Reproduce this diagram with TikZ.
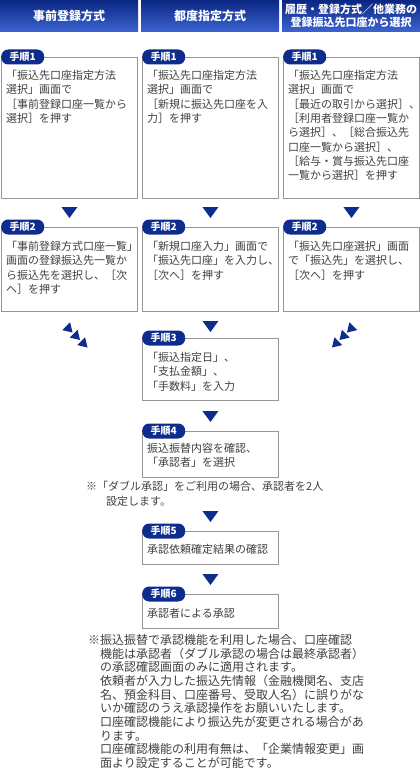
\documentclass[tikz,border=0pt]{standalone}
\usepackage{fontspec}
\setmainfont{Noto Sans CJK JP}
\usetikzlibrary{positioning, calc}
\definecolor{headnavy}{RGB}{10, 38, 130}
\definecolor{headblue}{RGB}{60, 100, 210}
\definecolor{tagnavy}{RGB}{14, 44, 140}
\definecolor{framegray}{RGB}{150, 150, 150}
\definecolor{inkgray}{RGB}{64, 64, 64}

\begin{document}
\begin{tikzpicture}[x=1pt, y=-1pt,
  colhead/.style={top color=headnavy, bottom color=headblue, text=white,
    font=\fontsize{12}{13}\selectfont\bfseries, minimum width=138pt,
    minimum height=32pt, inner sep=0pt, align=center},
  stepbox/.style={draw=framegray, line width=0.9pt, minimum width=136pt,
    inner sep=0pt, anchor=north west},
  steptag/.style={fill=tagnavy, text=white, font=\fontsize{10}{10}\selectfont\bfseries,
    rounded corners=7pt, minimum width=43pt, minimum height=15pt, inner sep=0pt, anchor=west},
  boxtext/.style={text=inkgray, font=\fontsize{11}{14.3}\selectfont, align=left,
    anchor=north west, inner sep=0pt},
  notetext/.style={text=inkgray, align=left, anchor=north west, inner sep=0pt},
  downmark/.pic={\fill[tagnavy] (-8,-5) -- (8,-5) -- (0,6) -- cycle;},
  rightmark/.pic={\fill[tagnavy] (3.5,3.5) -- (1.1,-6.7) -- (-6.7,1.1) -- cycle;},
  leftmark/.pic={\fill[tagnavy] (-3.5,3.5) -- (-1.1,-6.7) -- (6.7,1.1) -- cycle;}
]
  \useasboundingbox (0,0) rectangle (420,776);
  \fill[white] (0,0) rectangle (420,776);

  % 見出し
  \node[colhead] (h1) at (69,16) {事前登録方式};
  \node[colhead] (h2) at (210,16) {都度指定方式};
  \node[colhead, font=\fontsize{11}{13}\selectfont\bfseries] (h3) at (351,16)
    {履歴・登録方式／他業務の\\登録振込先口座から選択};

  % 手順1
  \node[stepbox, minimum height=141pt] (s1a) at (1,57) {};
  \node[stepbox, minimum height=141pt] (s1b) at (142,57) {};
  \node[stepbox, minimum height=141pt] (s1c) at (283,57) {};
  \node[boxtext] (t1a) at ([xshift=5pt, yshift=-13pt]s1a.north west)
    {「振込先口座指定方法\\選択」画面で\\［事前登録口座一覧から\\選択］を押す};
  \node[boxtext] (t1b) at ([xshift=5pt, yshift=-13pt]s1b.north west)
    {「振込先口座指定方法\\選択」画面で\\［新規に振込先口座を入\\力］を押す};
  \node[boxtext] (t1c) at ([xshift=5pt, yshift=-13pt]s1c.north west)
    {「振込先口座指定方法\\選択」画面で\\［最近の取引から選択］、\\［利用者登録口座一覧か\\ら選択］、［総合振込先\\口座一覧から選択］、\\［給与・賞与振込先口座\\一覧から選択］を押す};

  % 手順2
  \node[stepbox, minimum height=84pt] (s2a) at (1,227) {};
  \node[stepbox, minimum height=84pt] (s2b) at (142,227) {};
  \node[stepbox, minimum height=84pt] (s2c) at (283,227) {};
  \node[boxtext] (t2a) at ([xshift=5pt, yshift=-14pt]s2a.north west)
    {「事前登録方式口座一覧」\\画面の登録振込先一覧か\\ら振込先を選択し、［次\\へ］を押す};
  \node[boxtext] (t2b) at ([xshift=5pt, yshift=-14pt]s2b.north west)
    {「新規口座入力」画面で\\「振込先口座」を入力し、\\［次へ］を押す};
  \node[boxtext] (t2c) at ([xshift=5pt, yshift=-14pt]s2c.north west)
    {「振込先口座選択」画面\\で「振込先」を選択し、\\［次へ］を押す};

  \foreach \c in {a,b,c} {
    \node[steptag] (tag1\c) at (s1\c.north west) {手順1};
    \node[steptag] (tag2\c) at (s2\c.north west) {手順2};
    \pic at ([yshift=15pt]s2\c.north) {downmark};
  }

  % 手順3〜6
  \node[stepbox, minimum height=62pt] (s3) at (142,338) {};
  \node[stepbox, minimum height=46pt] (s4) at (142,431) {};
  \node[stepbox, minimum height=33pt] (s5) at (142,531) {};
  \node[stepbox, minimum height=34pt] (s6) at (142,594) {};
  \node[boxtext] (t3) at ([xshift=5pt, yshift=-14pt]s3.north west)
    {「振込指定日」、\\「支払金額」、\\「手数料」を入力};
  \node[boxtext] (t4) at ([xshift=5pt, yshift=-12pt]s4.north west)
    {振込振替内容を確認、\\「承認者」を選択};
  \node[boxtext] (t5) at ([xshift=5pt, yshift=-13pt]s5.north west) {承認依頼確定結果の確認};
  \node[boxtext] (t6) at ([xshift=5pt, yshift=-14pt]s6.north west) {承認者による承認};
  \foreach \n in {3,4,5,6}
    \node[steptag] (tag\n) at (s\n.north west) {手順\n};

  \pic at ([yshift=12pt]s3.north) {downmark};
  \pic at ([yshift=15pt]s4.north) {downmark};
  \pic at ([yshift=15pt]s5.north) {downmark};
  \pic at ([yshift=15pt]s6.north) {downmark};

  % 斜めの矢印
  \foreach \x/\y in {69/329, 76.5/336.5, 84/344}
    \pic at (\x,\y) {rightmark};
  \foreach \x/\y in {350.5/329, 343/336.5, 335.5/344}
    \pic at (\x,\y) {leftmark};

  % 注記
  \node[notetext, font=\fontsize{11}{15}\selectfont] (note1) at (86,481)
    {※「ダブル承認」をご利用の場合、承認者を2人\\\hspace*{20pt}設定します。};
  \node[notetext, font=\fontsize{12}{13.7}\selectfont] (note2) at (88,634)
    {※振込振替で承認機能を利用した場合、口座確認\\
     \hspace*{12pt}機能は承認者（ダブル承認の場合は最終承認者）\\
     \hspace*{12pt}の承認確認画面のみに適用されます。\\
     \hspace*{12pt}依頼者が入力した振込先情報（金融機関名、支店\\
     \hspace*{12pt}名、預金科目、口座番号、受取人名）に誤りがな\\
     \hspace*{12pt}いか確認のうえ承認操作をお願いいたします。\\
     \hspace*{12pt}口座確認機能により振込先が変更される場合があ\\
     \hspace*{12pt}ります。\\
     \hspace*{12pt}口座確認機能の利用有無は、「企業情報変更」画\\
     \hspace*{12pt}面より設定することが可能です。};
\end{tikzpicture}
\end{document}
